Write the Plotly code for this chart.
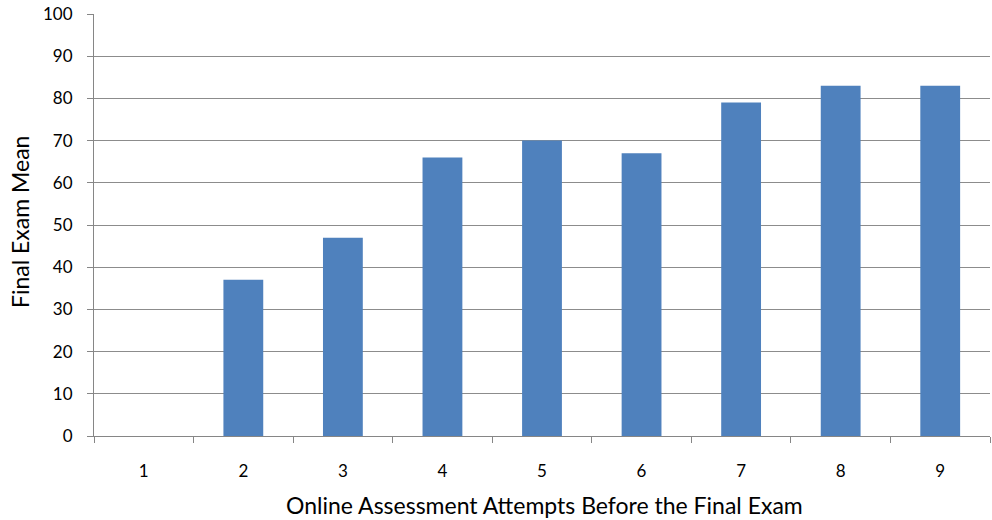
import plotly.graph_objects as go

attempts = ["1", "2", "3", "4", "5", "6", "7", "8", "9"]
exam_mean = [0, 37, 47, 66, 70, 67, 79, 83, 83]
y_ticks = [0, 10, 20, 30, 40, 50, 60, 70, 80, 90, 100]
x_title = "Online Assessment Attempts Before the Final Exam"
y_title = "Final Exam Mean"

fig = go.Figure(go.Bar(
    x=attempts, y=exam_mean,
    marker=dict(color="#4F81BD", line=dict(width=0)),
))

fig.update_layout(
    width=992, height=520,
    margin=dict(l=94, r=2, t=14, b=84),
    paper_bgcolor="white", plot_bgcolor="white",
    bargap=0.6,
    showlegend=False,
    font=dict(family="Lato, 'Open Sans', sans-serif", color="#000000"),
    xaxis=dict(
        type="category",
        automargin=False,
        tickfont=dict(size=17, color="#000000"),
        ticks="outside", tickson="boundaries", ticklen=6, tickcolor="#868686",
        ticklabelstandoff=20,
        showline=True, linecolor="#868686", linewidth=1,
        showgrid=False,
    ),
    yaxis=dict(
        range=[0, 100],
        automargin=False,
        tickvals=y_ticks,
        tickfont=dict(size=17, color="#000000"),
        ticks="outside", ticklen=6, tickcolor="#868686",
        ticklabelstandoff=11,
        showline=True, linecolor="#868686", linewidth=1,
        showgrid=True, gridcolor="#8C8C8C", gridwidth=1,
        zeroline=False,
    ),
    annotations=[
        dict(text=x_title, xref="paper", yref="paper", x=0.5, y=0,
             xanchor="center", yanchor="middle", xshift=2, yshift=-69,
             showarrow=False, font=dict(size=23, color="#000000")),
        dict(text=y_title, xref="paper", yref="paper", x=0, y=0.5,
             xanchor="center", yanchor="middle", xshift=-74, yshift=3,
             textangle=-90, showarrow=False, font=dict(size=23, color="#000000")),
    ],
)

fig.write_html("out.html", config={"displayModeBar": False},
               post_script="document.body.style.margin='0';")
